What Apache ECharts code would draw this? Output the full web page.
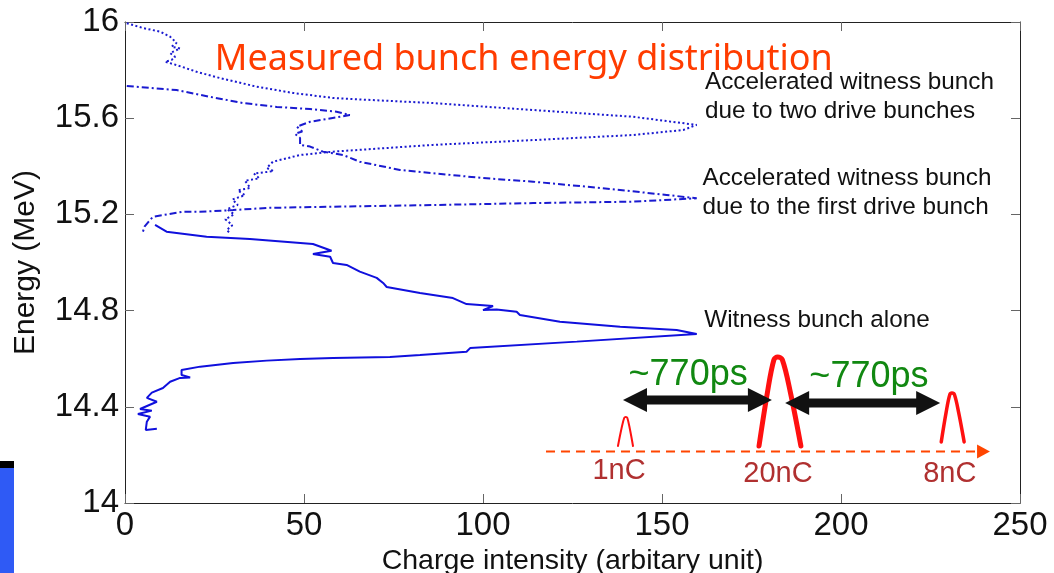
<!DOCTYPE html>
<html><head><meta charset="utf-8">
<script src="https://cdn.jsdelivr.net/npm/echarts@6/dist/echarts.min.js"></script>
<style>html,body{margin:0;padding:0;background:#fff}#c{width:1054px;height:573px}</style>
</head><body><div id="c"></div>
<script>
// Axis ticks
const xTicks = [0, 50, 100, 150, 200, 250];
const xTickLabels = ['0', '50', '100', '150', '200', '250'];
const yTicks = [14, 14.4, 14.8, 15.2, 15.6, 16];
const yTickLabels = ['14', '14.4', '14.8', '15.2', '15.6', '16'];

// [charge intensity, energy (MeV)] — witness bunch alone (solid)
const witnessAlone = [[8.9,14.309],[5.8,14.304],[6.1,14.338],[7.0,14.359],[3.6,14.370],[7.5,14.384],[4.2,14.391],[8.9,14.421],[6.1,14.437],[7.5,14.459],[10.6,14.478],[12.6,14.504],[15.4,14.520],[18.2,14.522],[15.8,14.532],[15.8,14.553],[21.0,14.567],[30.2,14.582],[39.6,14.592],[48.9,14.599],[58.1,14.603],[74.0,14.607],[82.4,14.615],[95.4,14.629],[96.4,14.644],[126.2,14.671],[159.7,14.703],[154.1,14.719],[138.3,14.733],[121.5,14.754],[110.3,14.782],[109.4,14.795],[103.8,14.805],[100.0,14.802],[102.8,14.819],[95.4,14.827],[91.6,14.852],[82.4,14.873],[73.1,14.898],[72.1,14.915],[70.3,14.936],[65.6,14.962],[61.9,14.990],[58.1,14.998],[57.3,15.024],[52.5,15.035],[57.7,15.049],[52.5,15.077],[34.9,15.098],[22.8,15.107],[11.6,15.128],[8.4,15.156]];

// accelerated witness bunch due to the first drive bunch (dash-dot)
const firstDrive = [[0.5,15.734],[14.4,15.717],[23.7,15.689],[33.0,15.663],[42.4,15.647],[51.7,15.638],[59.1,15.627],[62.8,15.613],[51.7,15.585],[48.0,15.565],[49.5,15.545],[47.5,15.535],[48.9,15.518],[48.9,15.489],[51.7,15.482],[55.3,15.461],[60.9,15.447],[65.6,15.419],[76.8,15.385],[100.0,15.351],[114.0,15.336],[132.7,15.310],[151.3,15.281],[159.7,15.267],[141.9,15.253],[114.0,15.247],[86.0,15.239],[58.1,15.232],[39.6,15.227],[30.2,15.218],[20.9,15.211],[16.2,15.211],[7.8,15.190],[7.0,15.177],[5.5,15.150],[5.0,15.128]];

// accelerated witness bunch due to two drive bunches (dotted)
const twoDrive = [[0.5,15.995],[5.0,15.975],[9.8,15.960],[12.6,15.939],[14.4,15.913],[13.0,15.897],[15.4,15.890],[12.6,15.871],[14.0,15.855],[13.0,15.842],[11.2,15.835],[14.4,15.821],[20.0,15.793],[26.5,15.767],[36.8,15.731],[46.9,15.705],[58.1,15.684],[65.6,15.678],[86.0,15.663],[114.0,15.634],[141.9,15.606],[159.7,15.572],[155.9,15.551],[141.9,15.530],[114.0,15.509],[86.0,15.489],[58.1,15.461],[48.9,15.447],[41.3,15.419],[39.6,15.393],[41.5,15.380],[36.0,15.370],[37.5,15.350],[33.5,15.340],[35.0,15.310],[31.5,15.300],[33.5,15.280],[30.0,15.262],[31.5,15.240],[28.5,15.222],[30.5,15.200],[28.0,15.180],[30.0,15.155],[28.4,15.135],[29.5,15.120]];

// Annotation texts (anchored in data coordinates)
const titleText = 'Measured bunch energy distribution';
const annoTexts = [
  {t:'Accelerated witness bunch', x:162.0, y:15.748},
  {t:'due to two drive bunches', x:162.0, y:15.629},
  {t:'Accelerated witness bunch', x:161.3, y:15.351},
  {t:'due to the first drive bunch', x:161.3, y:15.228},
  {t:'Witness bunch alone', x:161.8, y:14.758}
];
const spacingLabel = '~770ps';
const chargeLabels = [{t:'1nC', x:138.0, y:14.133},{t:'20nC', x:182.4, y:14.121},{t:'8nC', x:230.4, y:14.121}];

const FONT = '"Liberation Sans", Arial, sans-serif';
const chart = echarts.init(document.getElementById('c'), null, {renderer:'canvas'});
const blue = '#1a1ad0';

const axisCommon = {
  type:'value', splitLine:{show:false},
  axisLine:{show:true, onZero:false, lineStyle:{color:'#222', width:1}},
  axisTick:{show:true, inside:true, length:9, lineStyle:{color:'#666'}},
};

chart.setOption({
  animation:false,
  backgroundColor:'#fff',
  grid:{left:125, right:34, top:22, bottom:70, containLabel:false, outerBoundsMode:'none'},
  xAxis:[
    Object.assign({}, axisCommon, {min:0, max:250, interval:50, position:'bottom',
      name:'Charge intensity (arbitary unit)', nameLocation:'middle', nameGap:36,
      nameTextStyle:{fontFamily:FONT, fontSize:28.5, color:'#111'},
      axisLabel:{show:true, margin:6, fontFamily:FONT, fontSize:33, color:'#111',
        formatter:v => xTickLabels[xTicks.indexOf(v)] ?? String(v)}}),
    Object.assign({}, axisCommon, {min:0, max:250, interval:50, position:'top', axisLabel:{show:false}})
  ],
  yAxis:[
    Object.assign({}, axisCommon, {min:14, max:16, interval:0.4, position:'left',
      name:'Energy (MeV)', nameLocation:'middle', nameGap:84, nameRotate:90,
      nameTextStyle:{fontFamily:FONT, fontSize:30, color:'#111'},
      axisLabel:{show:true, margin:6, fontFamily:FONT, fontSize:33, color:'#111',
        formatter:v => { const i = yTicks.findIndex(t => Math.abs(t - v) < 1e-6); return i >= 0 ? yTickLabels[i] : String(v); }}}),
    Object.assign({}, axisCommon, {min:14, max:16, interval:0.4, position:'right', axisLabel:{show:false}})
  ],
  series:[
    {name:'Witness bunch alone', type:'line', data:witnessAlone, symbol:'none', smooth:false,
      lineStyle:{color:'#1010dd', width:2, type:'solid'}},
    {name:'First drive bunch', type:'line', data:firstDrive, symbol:'none', smooth:false,
      lineStyle:{color:blue, width:2, type:[7,3,2,3]}},
    {name:'Two drive bunches', type:'line', data:twoDrive, symbol:'none', smooth:false,
      lineStyle:{color:blue, width:2, type:[2,2.5]}}
  ]
});

function P(x, y){ return chart.convertToPixel({xAxisIndex:0, yAxisIndex:0}, [x, y]); }
function txt(t, x, y, size, color, align, family){
  const p = P(x, y);
  return {type:'text', x:p[0], y:p[1], z:10, style:{text:t, font:size + 'px ' + (family || FONT), fill:color,
    textAlign:align || 'left', textVerticalAlign:'middle', align:align || 'left', verticalAlign:'middle'}};
}
function pulse(x0, xc, x1, ytop, ybase, w){
  const pts = [[x0, ybase],[x0 + (xc-x0)*0.45, ybase + (ytop-ybase)*0.6],[xc - (xc-x0)*0.2, ytop - (ytop-ybase)*0.03],[xc, ytop],[xc + (x1-xc)*0.2, ytop - (ytop-ybase)*0.03],[x1 - (x1-xc)*0.45, ybase + (ytop-ybase)*0.6],[x1, ybase]].map(a => P(a[0], a[1]));
  return {type:'polyline', z:10, shape:{points:pts, smooth:0.35}, style:{stroke:'#ff1010', lineWidth:w, fill:null, lineCap:'round'}};
}
function dblArrow(x1, x2, y){
  const a = P(x1, y), b = P(x2, y);
  const Y = a[1], L = 24, H = 12, T = 4.5;
  const pts = [[a[0],Y],[a[0]+L,Y-H],[a[0]+L,Y-T],[b[0]-L,Y-T],[b[0]-L,Y-H],[b[0],Y],[b[0]-L,Y+H],[b[0]-L,Y+T],[a[0]+L,Y+T],[a[0]+L,Y+H]];
  return {type:'polygon', z:10, shape:{points:pts}, style:{fill:'#111'}};
}

const g = [];
// title
g.push(txt(titleText, 25.1, 15.842, 36, '#ff3c00', 'left', '"Noto Sans", sans-serif'));
annoTexts.forEach(a => g.push(txt(a.t, a.x, a.y, 24.3, '#111', 'left')));
// dashed time axis with arrow head
const la = P(117.6, 14.214), lb = P(238.0, 14.214), tip = P(241.6, 14.214);
g.push({type:'line', z:9, shape:{x1:la[0], y1:la[1], x2:lb[0], y2:lb[1]}, style:{stroke:'#ff4500', lineWidth:2, lineDash:[9,6]}});
g.push({type:'polygon', z:9, shape:{points:[[tip[0], tip[1]],[lb[0], tip[1]-7],[lb[0], tip[1]+7]]}, style:{fill:'#ff4500'}});
// pulses
g.push(pulse(137.7, 139.9, 141.9, 14.358, 14.237, 2));
g.push(pulse(177.1, 182.3, 188.8, 14.607, 14.237, 5));
g.push(pulse(228.0, 231.0, 234.4, 14.457, 14.254, 3.5));
// spacing arrows
g.push(dblArrow(139.1, 180.7, 14.428));
g.push(dblArrow(184.4, 227.7, 14.416));
g.push(txt(spacingLabel, 157.3, 14.532, 36, '#118811', 'center'));
g.push(txt(spacingLabel, 207.8, 14.524, 36, '#118811', 'center'));
chargeLabels.forEach(c => g.push(txt(c.t, c.x, c.y, 29, '#b03030', 'center')));
// page decoration at bottom-left
g.push({type:'rect', z:10, shape:{x:0, y:468, width:14, height:105}, style:{fill:'#2f5af5'}});
g.push({type:'rect', z:10, shape:{x:0, y:461, width:14, height:7}, style:{fill:'#000'}});

chart.setOption({graphic:g});
</script>
</body></html>
